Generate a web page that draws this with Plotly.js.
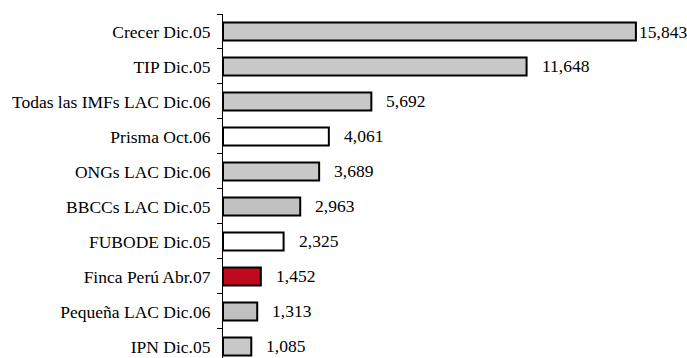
<!DOCTYPE html>
<html>
<head>
<meta charset="utf-8">
<script src="https://cdn.plot.ly/plotly-3.0.1.min.js"></script>
<style>html,body{margin:0;padding:0;background:#fff;}#chart{width:687px;height:358px;}</style>
</head>
<body>
<div id="chart"></div>
<script>
const categories = ["Crecer Dic.05","TIP Dic.05","Todas las IMFs LAC Dic.06","Prisma Oct.06","ONGs LAC Dic.06","BBCCs LAC Dic.05","FUBODE Dic.05","Finca Perú Abr.07","Pequeña LAC Dic.06","IPN Dic.05"];
const values = [15843,11648,5692,4061,3689,2963,2325,1452,1313,1085];
const labels = ["15,843","11,648","5,692","4,061","3,689","2,963","2,325","1,452","1,313","1,085"];
const barColors = ["#c8c8c8","#c8c8c8","#c8c8c8","#ffffff","#c8c8c8","#c0c0c0","#ffffff","#bf0a1e","#c0c0c0","#c8c8c8"];
const labelShift = [1,13,13,13,13,13,13,13,13,13];

const font = {family: "Liberation Serif", size: 17.5, color: "#000"};

const trace = {
  type: "bar",
  orientation: "h",
  y: categories,
  x: values,
  width: 0.51,
  marker: {color: barColors, line: {color: "#000", width: 2}},
  hoverinfo: "none"
};

const annotations = categories.map((c, i) => ({
  x: values[i], y: c, xref: "x", yref: "y",
  text: labels[i], showarrow: false, xanchor: "left", yanchor: "middle",
  xshift: labelShift[i], font: font
}));

const layout = {
  width: 687, height: 358,
  margin: {l: 223, r: 47, t: 14, b: 0},
  paper_bgcolor: "#fff", plot_bgcolor: "#fff",
  showlegend: false,
  font: font,
  xaxis: {range: [0, 16000], visible: false, showgrid: false, zeroline: false},
  yaxis: {
    type: "category",
    categoryorder: "array", categoryarray: categories,
    range: [9.33, -0.5],
    showline: true, linecolor: "#000", linewidth: 1,
    ticks: "outside", tickson: "boundaries", ticklen: 5, tickcolor: "#000", tickwidth: 1,
    ticklabelstandoff: 8,
    showgrid: false, zeroline: false,
    tickfont: font
  },
  annotations: annotations
};

Plotly.newPlot("chart", [trace], layout, {staticPlot: true, displayModeBar: false});
</script>
</body>
</html>
